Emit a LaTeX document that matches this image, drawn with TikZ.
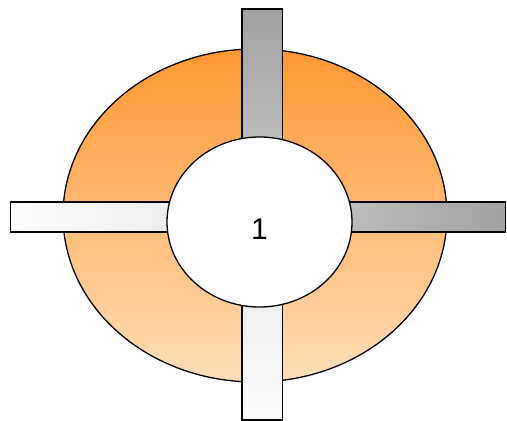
\documentclass[tikz,border=0pt]{standalone}
\usepackage{fontspec}
\setmainfont{Liberation Sans}
\usetikzlibrary{shapes.geometric}

\definecolor{ringtop}{RGB}{255,151,50}
\definecolor{ringbot}{RGB}{255,222,184}
\definecolor{bardark}{RGB}{161,161,161}
\definecolor{barmid}{RGB}{190,190,190}
\definecolor{barpale}{RGB}{236,236,236}
\definecolor{barwhite}{RGB}{253,253,253}

\tikzset{
    spoke/.style={draw=black, line width=1.4pt},
    hub/.style={ellipse, draw=black, line width=1.3pt, fill=white, inner sep=0pt,
        minimum width=185pt, minimum height=170pt}
}

\begin{document}
\begin{tikzpicture}[x=1pt, y=1pt]
    \useasboundingbox (0,0) rectangle (507,421);
    % Outer ring
    \draw[line width=1.3pt, top color=ringtop, bottom color=ringbot]
        (255,205.5) ellipse [x radius=192, y radius=166.5];
    % Four spokes
    \draw[spoke, top color=bardark, bottom color=barmid] (242,412) rectangle (282.5,270);
    \draw[spoke, top color=barpale, bottom color=barwhite] (242,1) rectangle (282.5,130);
    \draw[spoke, left color=barwhite, right color=barpale] (10.5,189) rectangle (180,219);
    \draw[spoke, left color=barmid, right color=bardark] (340,189) rectangle (505.5,219);
    % Hub with its number
    \node[hub] (hub) at (259.5,199) {};
    \node[font=\fontsize{30}{30}\selectfont, inner sep=0pt] (num) at ([yshift=-7pt]hub.center) {1};
\end{tikzpicture}
\end{document}
